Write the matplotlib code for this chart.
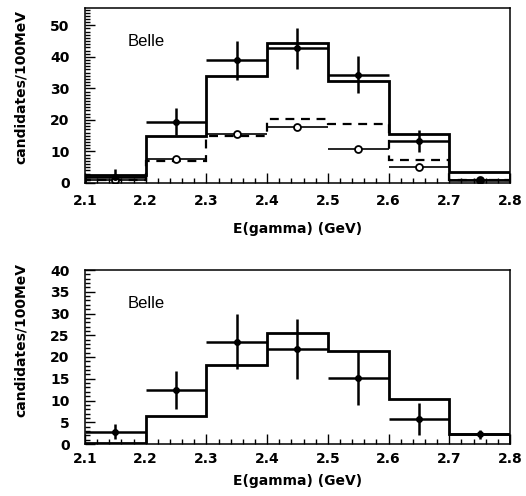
import matplotlib.pyplot as plt
import numpy as np
from matplotlib.ticker import MultipleLocator

plt.rcParams["font.family"] = ["DejaVu Sans"]

# Бiни по енергії фотона
edges = np.round(np.arange(2.1, 2.81, 0.1), 2)
centers = edges[:-1] + 0.05
half_width = 0.05

# Верхня панель: повна МК, фон (штрихи), дані та відкриті точки
mc_top = [2.5, 14.8, 33.9, 44.4, 32.4, 15.4, 3.4]
bkg_top = [1.0, 7.0, 15.0, 20.2, 18.8, 7.3, 0.8]
data_top = [2.0, 19.4, 38.9, 42.7, 34.4, 13.4, 1.0]
err_top = [2.5, 4.3, 6.2, 6.6, 5.8, 3.5, 1.0]
open_top = [1.0, 7.7, 15.4, 17.7, 10.9, 5.0, 0.8]

# Нижня панель
mc_bottom = [0.3, 6.4, 18.2, 25.6, 21.4, 10.3, 2.2]
data_bottom = [2.8, 12.4, 23.5, 21.8, 15.2, 5.7, 2.2]
err_bottom = [1.7, 4.4, 6.3, 6.9, 6.2, 3.7, 1.0]

fig = plt.figure(figsize=(5.26, 4.96), dpi=100)
ax1 = fig.add_axes([85 / 526, 1 - 183 / 496, 425 / 526, 175 / 496])
ax2 = fig.add_axes([85 / 526, 1 - 444 / 496, 425 / 526, 174 / 496])


def style_axes(ax, ymax, major, lab_y, xlab_y, xpad):
    ax.set_xlim(2.1, 2.8)
    ax.set_ylim(0, ymax)
    ax.xaxis.set_major_locator(MultipleLocator(0.1))
    ax.xaxis.set_minor_locator(MultipleLocator(0.02))
    ax.yaxis.set_major_locator(MultipleLocator(major))
    ax.yaxis.set_minor_locator(MultipleLocator(1))
    ax.tick_params(which="both", direction="in", top=False, right=False,
                   width=1.0, labelsize=10)
    ax.tick_params(which="major", length=7)
    ax.tick_params(which="minor", length=3.5)
    ax.tick_params(axis="x", pad=xpad)
    ax.tick_params(axis="y", pad=11)
    for lab in ax.get_xticklabels() + ax.get_yticklabels():
        lab.set_fontweight("bold")
    for sp in ax.spines.values():
        sp.set_linewidth(1.1)
    ax.set_xlabel("E(gamma) (GeV)", fontsize=10, fontweight="bold")
    ax.set_ylabel("candidates/100MeV", fontsize=10, fontweight="bold")
    ax.xaxis.set_label_coords(0.5, xlab_y)
    ax.yaxis.set_label_coords(-0.135, lab_y)
    ax.text(0.101, 0.807, "Belle", transform=ax.transAxes, fontsize=12,
            va="center", ha="left", family="Liberation Sans")


# Верхній графік
ax1.stairs(mc_top, edges, color="black", linewidth=2.0)
ax1.stairs(bkg_top, edges, color="black", linewidth=1.6, linestyle=(0, (4, 3)))
ax1.errorbar(centers, open_top, xerr=half_width, fmt="o", color="black",
             markerfacecolor="white", markersize=5, elinewidth=1.2,
             markeredgewidth=1.3, capsize=0)
ax1.errorbar(centers, data_top, xerr=half_width, yerr=err_top, fmt="o",
             color="black", markersize=4, elinewidth=1.8, capsize=0)
style_axes(ax1, 55.5, 10, 0.55, -0.22, 8)

# Нижній графік
ax2.stairs(mc_bottom, edges, color="black", linewidth=2.0)
ax2.errorbar(centers, data_bottom, xerr=half_width, yerr=err_bottom, fmt="o",
             color="black", markersize=4, elinewidth=1.8, capsize=0)
style_axes(ax2, 40, 5, 0.6, -0.17, 6)

fig.savefig("out.png", dpi=100)
